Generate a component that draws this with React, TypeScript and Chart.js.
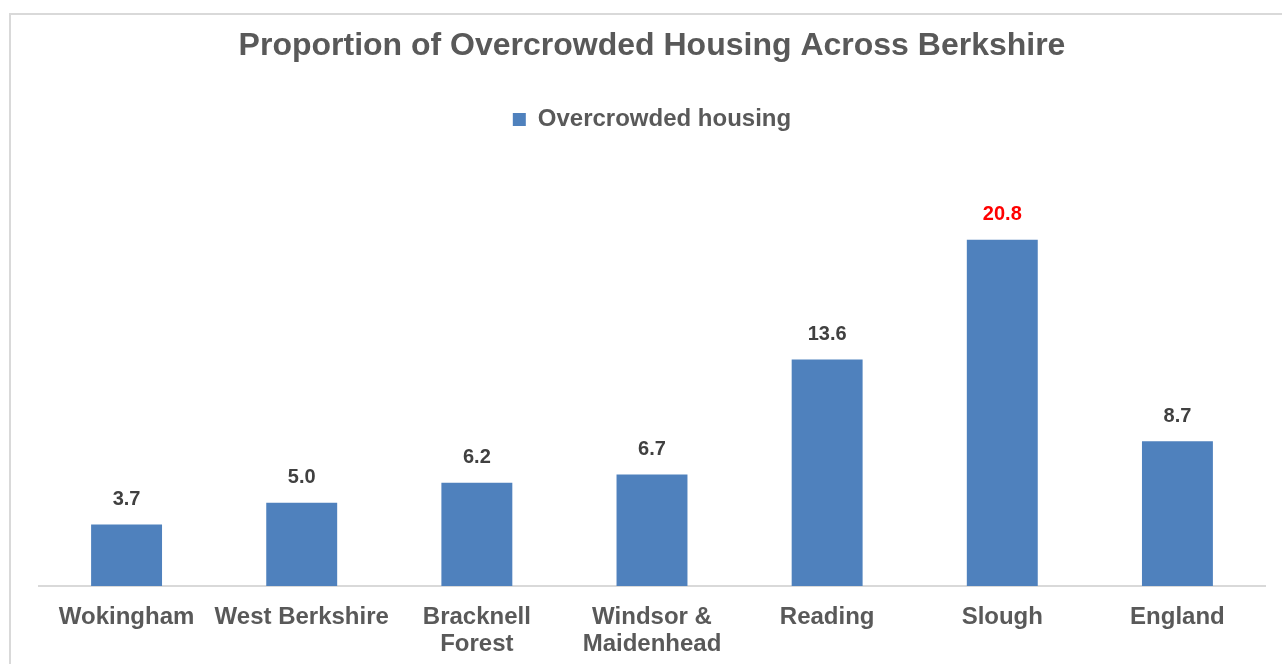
import React, { useEffect, useRef } from "react";
import { Chart, registerables } from "chart.js";

Chart.register(...registerables);

const categories: (string | string[])[] = [
  "Wokingham",
  "West Berkshire",
  ["Bracknell", "Forest"],
  ["Windsor &", "Maidenhead"],
  "Reading",
  "Slough",
  "England",
];
const seriesName = "Overcrowded housing";
const values: number[] = [3.7, 5.0, 6.2, 6.7, 13.6, 20.8, 8.7];
const valueLabels: string[] = ["3.7", "5.0", "6.2", "6.7", "13.6", "20.8", "8.7"];
const labelColors: string[] = ["#404040", "#404040", "#404040", "#404040", "#404040", "#FF0000", "#404040"];

const FONT = "'Liberation Sans', Arial, Helvetica, sans-serif";

const dataLabelPlugin = {
  id: "dataLabelPlugin",
  afterDatasetsDraw(chart: any) {
    const { ctx } = chart;
    const meta = chart.getDatasetMeta(0);
    ctx.save();
    ctx.font = `bold 20px ${FONT}`;
    ctx.textAlign = "center";
    ctx.textBaseline = "middle";
    meta.data.forEach((bar: any, i: number) => {
      ctx.fillStyle = labelColors[i];
      ctx.fillText(valueLabels[i], bar.x, bar.y - 25);
    });
    ctx.restore();
  },
};

export default function App() {
  const ref = useRef<HTMLCanvasElement | null>(null);

  useEffect(() => {
    if (!ref.current) return;
    const chart = new Chart(ref.current, {
      type: "bar",
      data: {
        labels: categories,
        datasets: [
          {
            label: seriesName,
            data: values,
            backgroundColor: "#4F81BD",
            borderWidth: 0,
            barPercentage: 0.405,
            categoryPercentage: 1,
          },
        ],
      },
      options: {
        animation: false,
        responsive: false,
        maintainAspectRatio: false,
        layout: { padding: { left: 28, right: 29, top: 0, bottom: 0 } },
        plugins: {
          title: {
            display: true,
            text: "Proportion of Overcrowded Housing Across Berkshire",
            color: "#595959",
            font: { family: FONT, size: 32, weight: "bold" },
            padding: { top: 12, bottom: 32 },
          },
          legend: {
            display: true,
            position: "top",
            labels: {
              color: "#595959",
              font: { family: FONT, size: 24, weight: "bold" },
              boxWidth: 13,
              boxHeight: 13,
            },
          },
          tooltip: { enabled: false },
        },
        scales: {
          x: {
            grid: { display: false, drawTicks: false },
            border: { display: true, color: "#d9d9d9", width: 2 },
            ticks: {
              color: "#595959",
              font: { family: FONT, size: 24, weight: "bold", lineHeight: 1.13 },
              padding: 18,
              maxRotation: 0,
              autoSkip: false,
            },
            afterFit: (scale: any) => {
              scale.height = 78;
            },
          },
          y: {
            display: false,
            min: 0,
            max: 26.7,
          },
        },
      },
      plugins: [dataLabelPlugin],
    });
    return () => chart.destroy();
  }, []);

  return (
    <div
      style={{
        position: "fixed",
        left: 0,
        top: 0,
        width: 1282,
        height: 664,
        overflow: "hidden",
        background: "#fff",
      }}
    >
      <div
        style={{
          position: "absolute",
          left: 9,
          top: 13,
          width: 1283,
          height: 700,
          border: "2px solid #d9d9d9",
          background: "#fff",
        }}
      >
        <canvas ref={ref} width={1283} height={649} style={{ display: "block", width: 1283, height: 649 }} />
      </div>
    </div>
  );
}
